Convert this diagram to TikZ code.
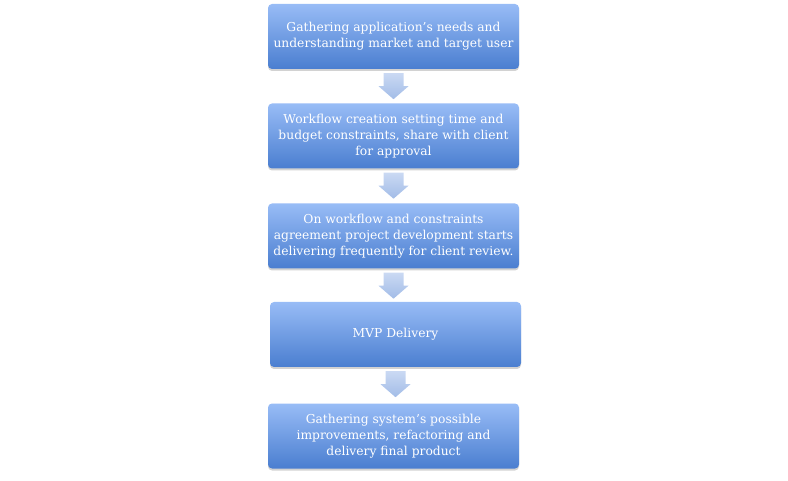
\documentclass[tikz,border=0pt]{standalone}
\usepackage{fontspec}
\setmainfont{DejaVu Serif}
\usetikzlibrary{shadows,calc}
\definecolor{boxtop}{HTML}{98BCF6}
\definecolor{boxbot}{HTML}{4A7ED0}
\definecolor{arrtop}{HTML}{CAD9F3}
\definecolor{arrbot}{HTML}{A2BCE7}
\tikzset{
  stepbox/.style={rectangle, rounded corners=4pt, minimum width=251pt, minimum height=65pt,
    top color=boxtop, bottom color=boxbot, draw=none, text=white, align=center,
    font=\fontsize{12.3}{16}\selectfont, inner sep=2pt,
    drop shadow={shadow xshift=0pt, shadow yshift=-2pt, opacity=0.25, fill=black!70}},
  flowarrow/.style={top color=arrtop, bottom color=arrbot, draw=none}
}
\begin{document}
\begin{tikzpicture}[x=1pt,y=1pt]
\useasboundingbox (0,0) rectangle (788,-481);
\node[stepbox] (n1) at (393.5,-36.5) {Gathering application’s needs and\\understanding market and target user};
\node[stepbox] (n2) at (393.5,-136) {Workflow creation setting time and\\budget constraints, share with client\\for approval};
\node[stepbox] (n3) at (393.5,-236) {On workflow and constraints\\agreement project development starts\\delivering frequently for client review.};
\node[stepbox] (n4) at (395.5,-334.5) {MVP Delivery};
\node[stepbox] (n5) at (393.5,-436) {Gathering system’s possible\\improvements, refactoring and\\delivery final product};
\foreach \p/\q in {n1/n2,n2/n3,n3/n4,n4/n5}{
  \path (\p.south) coordinate (a) (\q.north) coordinate (b);
  \path[flowarrow] ($(a)+(-10,-4)$) -- ($(a)+(10,-4)$) -- ($(a)+(10,-17)$)
     -- ($(a)+(15,-17)$) -- ($(a)+(0,-30)$) -- ($(a)+(-15,-17)$) -- ($(a)+(-10,-17)$) -- cycle;
}
\end{tikzpicture}
\end{document}
